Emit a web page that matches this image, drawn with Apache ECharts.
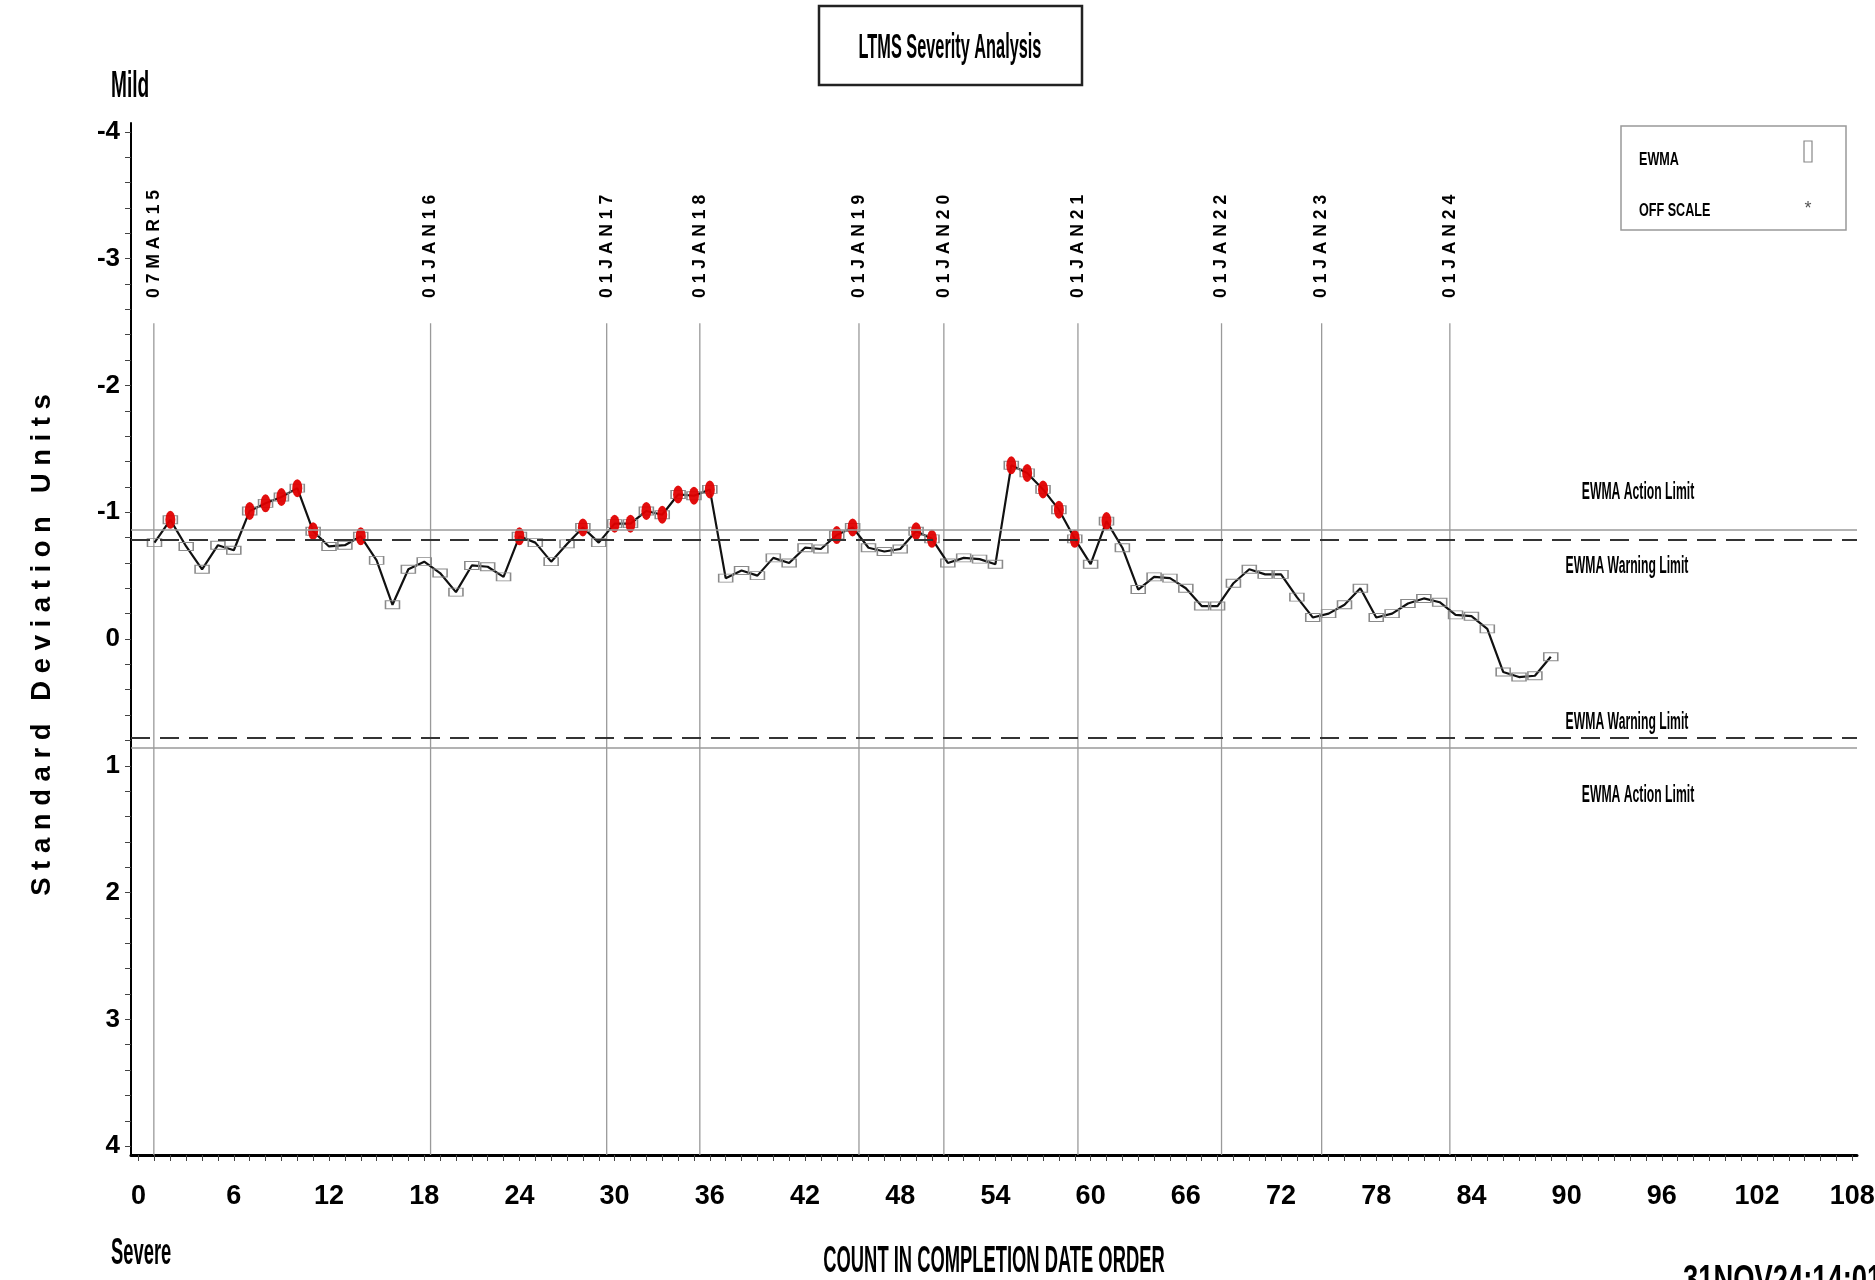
<!DOCTYPE html>
<html><head><meta charset="utf-8">
<script src="https://cdn.jsdelivr.net/npm/echarts@6/dist/echarts.min.js"></script>
<style>html,body{margin:0;padding:0;background:#fff}#c{width:1875px;height:1280px}</style>
</head><body><div id="c"></div>
<script>
// EWMA values (standard deviation units), in completion-date order, counts 1..89
const ewma = [
 -0.76,-0.94,-0.73,-0.55,-0.74,-0.70,-1.01,-1.07,-1.12,-1.19,
 -0.85,-0.73,-0.74,-0.81,-0.62,-0.27,-0.55,-0.61,-0.52,-0.37,
 -0.58,-0.57,-0.49,-0.81,-0.76,-0.61,-0.75,-0.88,-0.76,-0.91,
 -0.91,-1.01,-0.98,-1.14,-1.13,-1.18,-0.48,-0.54,-0.50,-0.64,
 -0.60,-0.72,-0.71,-0.82,-0.88,-0.72,-0.69,-0.71,-0.85,-0.79,
 -0.60,-0.64,-0.63,-0.59,-1.37,-1.31,-1.18,-1.02,-0.79,-0.59,
 -0.93,-0.72,-0.39,-0.49,-0.48,-0.40,-0.26,-0.26,-0.44,-0.55,
 -0.51,-0.51,-0.33,-0.17,-0.20,-0.27,-0.40,-0.17,-0.20,-0.28,
 -0.32,-0.29,-0.19,-0.18,-0.08,0.26,0.30,0.29,0.14
];
// counts flagged in red (beyond warning limit)
const alertCounts = [2,7,8,9,10,11,14,24,28,30,31,32,33,34,35,36,44,45,49,50,55,56,57,58,59,61];
// calendar reference lines
const dateLineX = [0.96,18.4,29.5,35.37,45.4,50.75,59.2,68.25,74.56,82.64];
const dateLabels = ['07MAR15','01JAN16','01JAN17','01JAN18','01JAN19','01JAN20','01JAN21','01JAN22','01JAN23','01JAN24'];
// tick labels
const xTickLabels = [0,6,12,18,24,30,36,42,48,54,60,66,72,78,84,90,96,102,108];
const yTickLabels = [-4,-3,-2,-1,0,1,2,3,4];
// limits
const actionLimit = [-0.86, 0.86];
const warningLimit = [-0.775, 0.775];

const SANS = "'Liberation Sans',Arial,Helvetica,sans-serif";

const xMinorTicks = [];
for (let i = 0; i <= 108; i++) xMinorTicks.push(i);
const yMinorTicks = [];
for (let i = -20; i <= 20; i++) yMinorTicks.push(Math.round(i * 2) / 10);

const lineData = ewma.map((v, i) => [i + 1, v]);
const alertData = alertCounts.map(c => [c, ewma[c - 1]]);
const dateData = dateLineX.map((x, i) => [x, i]);

const Y_MIN = -4.07, Y_MAX = 4.07;
const DATE_LINE_TOP = -2.49, DATE_LABEL_BASE = -2.69;

function txt(x, y, text, font, opts) {
  return Object.assign({
    type: 'text', x: x, y: y, silent: true,
    style: Object.assign({ text: text, font: font, fill: '#000', align: 'left', verticalAlign: 'middle' }, (opts && opts.style) || {})
  }, opts ? { scaleX: opts.scaleX || 1, rotation: opts.rotation || 0 } : {});
}

const chart = echarts.init(document.getElementById('c'), null, { renderer: 'canvas' });
chart.setOption({
  animation: false,
  backgroundColor: '#fff',
  grid: { left: 131, right: 18, top: 123, bottom: 125, containLabel: false, outerBoundsMode: 'none' },
  xAxis: {
    type: 'value', min: -0.48, max: 108.3,
    axisLine: { show: true, onZero: false, lineStyle: { color: '#000', width: 3 } },
    axisTick: { show: true, customValues: xMinorTicks, length: 6, lineStyle: { color: '#444', width: 1 } },
    axisLabel: { show: true, customValues: xTickLabels, margin: 28, fontFamily: SANS, fontWeight: 'bold', fontSize: 27, color: '#000', hideOverlap: false },
    splitLine: { show: false }
  },
  yAxis: {
    type: 'value', min: Y_MIN, max: Y_MAX, inverse: true,
    axisLine: { show: true, onZero: false, lineStyle: { color: '#000', width: 2 } },
    axisTick: { show: true, customValues: yMinorTicks, length: 6, lineStyle: { color: '#444', width: 1 } },
    axisLabel: { show: true, customValues: yTickLabels, margin: 11, fontFamily: SANS, fontWeight: 'bold', fontSize: 26, color: '#000',
      formatter: v => String(v) },
    splitLine: { show: false }
  },
  series: [
    {
      type: 'custom', name: 'dates', data: dateData, silent: true, z: 1,
      renderItem: function (params, api) {
        const x = api.value(0), idx = api.value(1);
        const p1 = api.coord([x, DATE_LINE_TOP]);
        const p2 = api.coord([x, Y_MAX]);
        const pt = api.coord([x, DATE_LABEL_BASE]);
        return {
          type: 'group', children: [
            { type: 'line', shape: { x1: p1[0], y1: p1[1], x2: p2[0], y2: p2[1] }, style: { stroke: '#9a9a9a', lineWidth: 1.3 } },
            { type: 'text', x: pt[0], y: pt[1], rotation: Math.PI / 2,
              style: { text: dateLabels[idx].split('').join(' '), font: "bold 17.5px " + SANS, fill: '#000', align: 'left', verticalAlign: 'middle' } }
          ]
        };
      }
    },
    {
      type: 'line', name: 'EWMA', data: lineData, z: 3,
      symbol: 'rect', symbolSize: [14, 8], showAllSymbol: true,
      itemStyle: { color: 'rgba(255,255,255,0)', borderColor: '#8a8a8a', borderWidth: 1.2 },
      lineStyle: { color: '#111', width: 2.2 },
      markLine: {
        silent: true, symbol: ['none', 'none'], label: { show: false },
        data: [
          { yAxis: actionLimit[0], lineStyle: { type: 'solid', color: '#9a9a9a', width: 1.5 } },
          { yAxis: actionLimit[1], lineStyle: { type: 'solid', color: '#9a9a9a', width: 1.5 } },
          { yAxis: warningLimit[0], lineStyle: { type: [19, 10], color: '#333', width: 2 } },
          { yAxis: warningLimit[1], lineStyle: { type: [19, 10], color: '#333', width: 2 } }
        ]
      }
    },
    {
      type: 'scatter', name: 'alert', data: alertData, z: 4,
      symbol: 'circle', symbolSize: [10, 18],
      itemStyle: { color: '#e00000', opacity: 0.95 }
    }
  ],
  graphic: [
    { type: 'rect', shape: { x: 819, y: 6, width: 263, height: 79 }, style: { stroke: '#222', lineWidth: 2.5, fill: 'none' }, silent: true },
    txt(950, 48, 'LTMS Severity Analysis', 'bold 35px ' + SANS, { scaleX: 0.466, style: { align: 'center' } }),
    txt(111, 87, 'Mild', 'bold 36px ' + SANS, { scaleX: 0.53 }),
    txt(111, 1254, 'Severe', 'bold 36px ' + SANS, { scaleX: 0.51 }),
    txt(42, 645, 'S t a n d a r d   D e v i a t i o n   U n i t s', 'bold 28px ' + SANS, { scaleX: 0.98, rotation: Math.PI / 2, style: { align: 'center' } }),
    txt(994, 1262, 'COUNT IN COMPLETION DATE ORDER', 'bold 36px ' + SANS, { scaleX: 0.51, style: { align: 'center' } }),
    { type: 'rect', shape: { x: 1621, y: 126, width: 225, height: 104 }, style: { stroke: '#999', lineWidth: 1.5, fill: 'none' }, silent: true },
    txt(1639, 160, 'EWMA', 'bold 18px ' + SANS, { scaleX: 0.7 }),
    txt(1639, 211, 'OFF SCALE', 'bold 18px ' + SANS, { scaleX: 0.7 }),
    { type: 'rect', shape: { x: 1804, y: 141, width: 8, height: 21 }, style: { stroke: '#888', lineWidth: 1.2, fill: 'none' }, silent: true },
    txt(1808, 209, '*', '18px ' + SANS, { style: { align: 'center', fill: '#555' } }),
    txt(1638, 493, 'EWMA Action Limit', 'bold 23px ' + SANS, { scaleX: 0.53, style: { align: 'center' } }),
    txt(1627, 567, 'EWMA Warning Limit', 'bold 23px ' + SANS, { scaleX: 0.53, style: { align: 'center' } }),
    txt(1627, 723, 'EWMA Warning Limit', 'bold 23px ' + SANS, { scaleX: 0.53, style: { align: 'center' } }),
    txt(1638, 796, 'EWMA Action Limit', 'bold 23px ' + SANS, { scaleX: 0.53, style: { align: 'center' } }),
    txt(1683, 1282, '31NOV24:14:01', 'bold 38px ' + SANS, { scaleX: 0.72 })
  ]
});
</script>
</body></html>
